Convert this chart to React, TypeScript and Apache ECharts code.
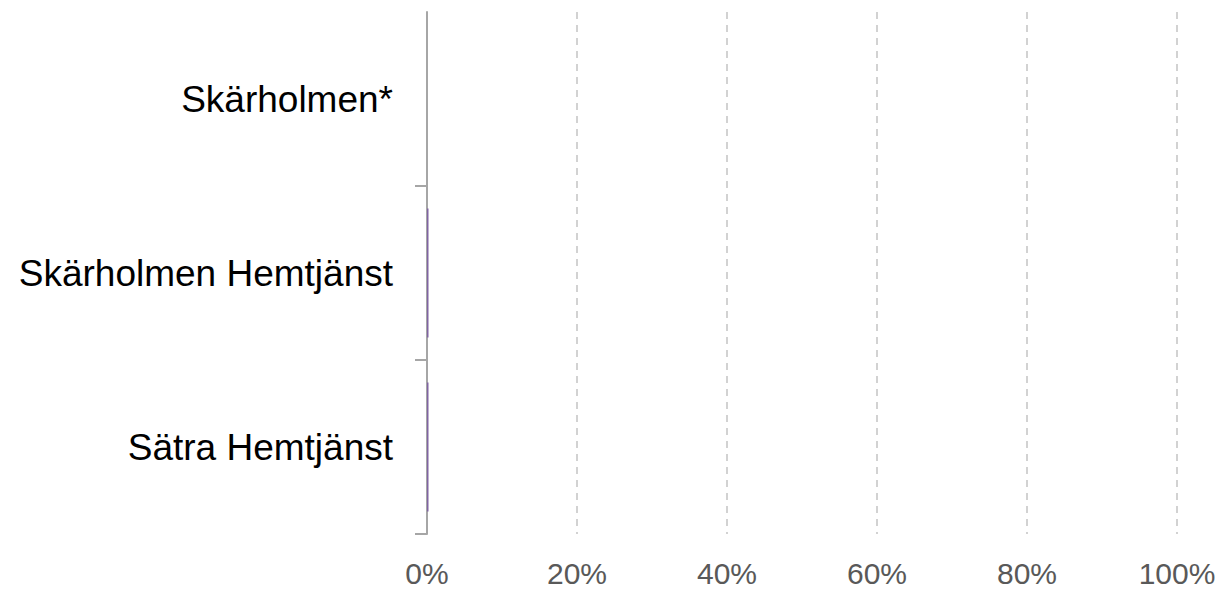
import React, { useEffect, useRef } from "react";
import * as echarts from "echarts";

const categories = ["Skärholmen*", "Skärholmen Hemtjänst", "Sätra Hemtjänst"];
const values = [0, 0.2, 0.2];
const xTicks = [0, 20, 40, 60, 80, 100];

export default function App() {
  const ref = useRef<HTMLDivElement>(null);
  useEffect(() => {
    document.body.style.margin = "0";
    if (!ref.current) return;
    const chart = echarts.init(ref.current, null, { renderer: "svg" });
    chart.setOption({
      animation: false,
      grid: { left: 427, right: 50, top: 12, bottom: 56, containLabel: false },
      xAxis: {
        type: "value",
        min: xTicks[0],
        max: xTicks[xTicks.length - 1],
        interval: 20,
        axisLine: { show: false },
        axisTick: { show: false },
        axisLabel: {
          formatter: "{value}%",
          color: "#595959",
          fontSize: 30,
          fontFamily: "Liberation Sans, Arial, sans-serif",
          margin: 24,
        },
        splitLine: {
          show: true,
          lineStyle: { color: "#c4c4c4", width: 1.5, type: [7, 6] },
        },
      },
      yAxis: [
        {
          type: "category",
          data: categories,
          inverse: true,
          axisLine: { show: true, lineStyle: { color: "#a6a6a6", width: 2 } },
          axisTick: { show: false },
          axisLabel: {
            color: "#000000",
            fontSize: 37,
            fontFamily: "Liberation Sans, Arial, sans-serif",
            margin: 34,
          },
          splitLine: { show: false },
        },
        {
          type: "value",
          position: "left",
          min: 0,
          max: 3,
          interval: 1,
          axisLine: { show: false },
          axisLabel: { show: false },
          splitLine: { show: false },
          axisTick: {
            show: true,
            length: 12,
            customValues: [0, 1, 2],
            lineStyle: { color: "#a6a6a6", width: 2 },
          },
        },
      ],
      series: [
        {
          type: "bar",
          yAxisIndex: 0,
          data: values,
          barCategoryGap: "26%",
          itemStyle: { color: "#8064a2" },
        },
      ],
    });
    return () => chart.dispose();
  }, []);
  return <div ref={ref} style={{ width: 1227, height: 590 }} />;
}
